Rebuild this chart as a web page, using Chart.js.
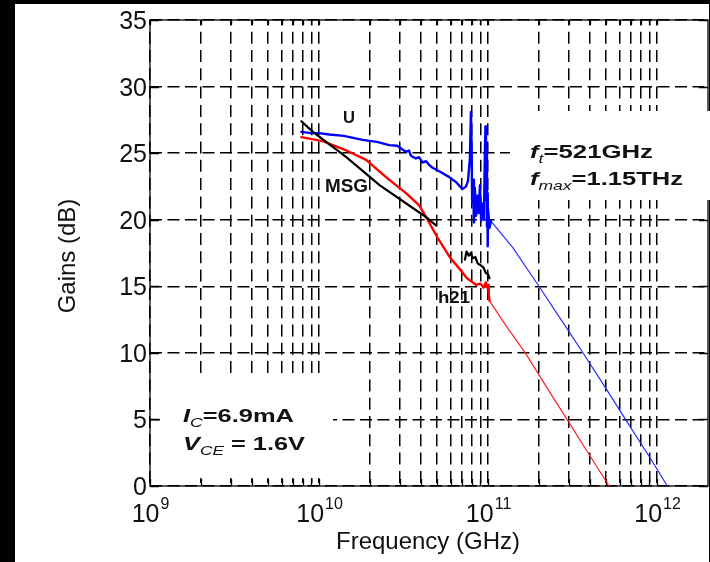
<!DOCTYPE html>
<html>
<head>
<meta charset="utf-8">
<script src="https://cdn.jsdelivr.net/npm/chart.js@4.4.1/dist/chart.umd.min.js"></script>
<style>
  html, body { margin: 0; padding: 0; background: #000; }
  #wrap { width: 710px; height: 562px; }
</style>
</head>
<body>
<div id="wrap"><canvas id="chart" width="710" height="562"></canvas></div>
<script>
// frequency in Hz, gain in dB
const uMeasFreq = [7.86e9, 9e9, 1.0e10, 1.15e10, 1.4e10, 1.81e10, 2.2e10, 2.6e10, 2.9e10, 3.1e10, 3.27e10, 3.4e10, 3.5e10, 3.74e10, 3.9e10, 4.1e10, 4.3e10, 4.49e10, 4.7e10, 5.2e10, 5.9e10, 6.5e10, 7.05e10, 7.4e10,
  7.6e10, 7.8e10, 7.92e10, 8.0e10, 8.05e10, 8.15e10, 8.25e10, 8.35e10, 8.5e10, 8.65e10, 8.8e10, 8.95e10, 9.1e10, 9.3e10, 9.45e10, 9.55e10, 9.65e10, 9.72e10, 9.8e10, 9.85e10, 9.9e10, 9.95e10, 1.0e11, 1.02e11, 1.04e11];
const uMeasGain = [26.6, 26.5, 26.5, 26.4, 26.3, 26.0, 25.85, 25.6, 25.55, 25.3, 25.1, 25.2, 24.8, 24.6, 24.7, 24.3, 24.4, 24.1, 23.9, 23.6, 23.2, 22.8, 22.3, 22.5,
  22.9, 24.5, 28.1, 25.0, 21.3, 23.0, 19.8, 22.4, 20.3, 21.8, 20.5, 22.6, 19.9, 21.2, 20.0, 24.2, 27.0, 21.5, 25.5, 19.5, 22.0, 18.0, 20.8, 19.4, 19.9];
const uExtFreq = [1.04e11, 1.4e11, 2e11, 2.8e11, 3.6e11, 5e11, 6.5e11, 9e11, 1.15e12];
const uExtGain = [19.9, 17.9, 15.0, 12.2, 10.1, 7.3, 5.0, 2.2, 0];

const h21MeasFreq = [7.86e9, 1.05e10, 1.45e10, 1.9e10, 2.49e10, 3.27e10, 3.9e10, 4.3e10, 5.0e10, 6.0e10, 7.0e10, 7.5e10, 8.0e10, 8.5e10, 9.0e10, 9.4e10, 9.7e10, 9.9e10, 1.0e11, 1.01e11, 1.02e11];
const h21MeasGain = [26.2, 25.9, 25.2, 24.5, 23.2, 22.0, 21.1, 20.2, 18.7, 17.1, 16.1, 15.6, 15.35, 15.1, 15.2, 14.9, 15.3, 14.9, 15.1, 14.4, 13.9];
const h21ExtFreq = [1.02e11, 1.3e11, 1.66e11, 2.2e11, 2.93e11, 3.9e11, 5.2e11];
const h21ExtGain = [13.9, 11.9, 10.0, 7.5, 5.0, 2.5, 0];

// null marks the break in the MSG trace
const msgFreq = [7.86e9, 9.2e9, 1.45e10, 2.28e10, 3.57e10, 4.3e10, 4.9e10, 6e10,
  7.3e10, 7.45e10, 7.7e10, 7.9e10, 8.1e10, 8.4e10, 8.7e10, 9.0e10, 9.4e10, 9.7e10, 1.0e11, 1.02e11];
const msgGain = [27.4, 26.6, 24.7, 22.6, 20.9, 20.2, 19.6, null,
  17.0, 17.6, 17.3, 17.5, 17.1, 17.2, 16.7, 16.6, 16.4, 16.0, 15.9, 15.6];

const xDecades = [1e9, 1e10, 1e11, 1e12];
const xExponents = ['9', '10', '11', '12'];
const gainTicks = [0, 5, 10, 15, 20, 25, 30, 35];

// log grid: 1..9 in every decade up to 1e12
const xGrid = [];
xDecades.forEach(d => {
  for (let m = 1; m <= 9; m++) if (d * m <= 1e12) xGrid.push(d * m);
});

const pts = (f, g) => f.map((v, i) => ({ x: v, y: g[i] }));
const FONT = '"Liberation Sans", Arial, sans-serif';

function runFont(r, size) {
  const s = r.sub ? Math.round(size * 0.68) : size;
  return (r.italic ? 'italic ' : '') + (r.bold ? 'bold ' : '') + s + 'px ' + FONT;
}

// draws text pieces (with subscripts) from x, squeezed/stretched to width
function drawRuns(c, runs, x, y, size, width) {
  let total = 0;
  runs.forEach(r => { c.font = runFont(r, size); r.w = c.measureText(r.t).width; total += r.w; });
  const k = width ? width / total : 1;
  c.save();
  c.translate(x, y);
  c.scale(k, 1);
  c.fillStyle = '#111';
  c.textAlign = 'left';
  c.textBaseline = 'alphabetic';
  let cx = 0;
  runs.forEach(r => {
    c.font = runFont(r, size);
    c.fillText(r.t, cx, r.sub ? size * 0.28 : 0);
    cx += r.w;
  });
  c.restore();
}

const decor = {
  id: 'decor',
  beforeDraw(chart) {
    const c = chart.ctx;
    c.save();
    c.fillStyle = '#000';
    c.fillRect(0, 0, chart.width, chart.height);
    c.fillStyle = '#fff';
    c.fillRect(15, 4, 694, 558);
    c.restore();
  },
  beforeDatasetsDraw(chart) {
    const c = chart.ctx;
    const a = chart.chartArea;
    const xs = chart.scales.x, ys = chart.scales.y;
    c.save();
    // frame
    c.strokeStyle = '#000';
    c.lineWidth = 1.3;
    c.strokeRect(a.left, a.top, a.right - a.left, a.bottom - a.top);
    // inner ticks
    c.lineWidth = 1.3;
    c.beginPath();
    xGrid.forEach(v => {
      const px = Math.round(xs.getPixelForValue(v)) + 0.5;
      c.moveTo(px, a.bottom); c.lineTo(px, a.bottom - 7);
      c.moveTo(px, a.top); c.lineTo(px, a.top + 5);
    });
    gainTicks.forEach(v => {
      const py = Math.round(ys.getPixelForValue(v)) + 0.5;
      c.moveTo(a.left, py); c.lineTo(a.left + 9, py);
      c.moveTo(a.right, py); c.lineTo(a.right - 9, py);
    });
    c.stroke();
    // opaque text boxes
    c.fillStyle = '#fff';
    c.fillRect(510, 111, 200, 89);
    c.fillRect(160, 379, 173, 99);
    // annotations
    drawRuns(c, [{ t: 'f', italic: true, bold: true }, { t: 't', italic: true, sub: true }, { t: '=521GHz', bold: true }], 530, 158, 19, 123);
    drawRuns(c, [{ t: 'f', italic: true, bold: true }, { t: 'max', italic: true, sub: true }, { t: '=1.15THz', bold: true }], 530, 185, 19, 153);
    drawRuns(c, [{ t: 'I', italic: true, bold: true }, { t: 'C', italic: true, sub: true }, { t: '=6.9mA', bold: true }], 183, 422, 19, 111);
    drawRuns(c, [{ t: 'V', italic: true, bold: true }, { t: 'CE', italic: true, sub: true }, { t: ' = 1.6V', bold: true }], 183, 450, 19, 122);
    drawRuns(c, [{ t: 'U', bold: true }], 343, 123, 17, 12);
    drawRuns(c, [{ t: 'MSG', bold: true }], 325, 192, 19, 43);
    drawRuns(c, [{ t: 'h21', bold: true }], 438, 303, 17, 32);
    c.restore();
  },
  afterDraw(chart) {
    const c = chart.ctx;
    const xs = chart.scales.x, ys = chart.scales.y;
    c.save();
    c.fillStyle = '#111';
    c.textBaseline = 'alphabetic';
    // y tick labels
    c.font = '25px ' + FONT;
    c.textAlign = 'right';
    gainTicks.forEach(v => {
      c.fillText(String(v), 147, ys.getPixelForValue(v) + 9);
    });
    // x tick labels: 10^n
    c.textAlign = 'left';
    xDecades.forEach((d, i) => {
      c.font = '25px ' + FONT;
      const wb = c.measureText('10').width;
      c.font = '16px ' + FONT;
      const we = c.measureText(xExponents[i]).width;
      const x0 = xs.getPixelForValue(d) - (wb + we) / 2;
      c.font = '25px ' + FONT;
      c.fillText('10', x0, 522);
      c.font = '16px ' + FONT;
      c.fillText(xExponents[i], x0 + wb + 1, 509);
    });
    // axis titles
    c.font = '24px ' + FONT;
    c.textAlign = 'center';
    c.fillText('Frequency (GHz)', 428, 549);
    c.translate(75, 256);
    c.rotate(-Math.PI / 2);
    c.fillText('Gains (dB)', 0, 0);
    c.restore();
  }
};

new Chart(document.getElementById('chart').getContext('2d'), {
  type: 'line',
  data: {
    datasets: [
      { label: 'MSG', data: pts(msgFreq, msgGain), borderColor: '#000', borderWidth: 2.2 },
      { label: 'U', data: pts(uMeasFreq, uMeasGain), borderColor: '#0000ff', borderWidth: 2.4 },
      { label: 'U (ext)', data: pts(uExtFreq, uExtGain), borderColor: '#2b2bff', borderWidth: 1.2 },
      { label: 'h21', data: pts(h21MeasFreq, h21MeasGain), borderColor: '#ff0000', borderWidth: 2.4 },
      { label: 'h21 (ext)', data: pts(h21ExtFreq, h21ExtGain), borderColor: '#ff2020', borderWidth: 1.2 }
    ]
  },
  options: {
    responsive: false,
    animation: false,
    devicePixelRatio: 1,
    layout: { padding: { left: 150, top: 20, right: 2, bottom: 76 } },
    elements: {
      point: { radius: 0 },
      line: { tension: 0, fill: false, borderJoinStyle: 'round', borderCapStyle: 'round' }
    },
    plugins: { legend: { display: false }, tooltip: { enabled: false } },
    scales: {
      x: {
        type: 'logarithmic',
        min: 1e9,
        max: 2e12,
        afterBuildTicks: s => { s.ticks = xGrid.map(v => ({ value: v })); },
        ticks: { display: false },
        grid: { color: '#000', lineWidth: 1.5, drawTicks: false },
        border: { display: false, dash: [12, 6.3], dashOffset: 6.6 }
      },
      y: {
        type: 'linear',
        min: 0,
        max: 35,
        afterBuildTicks: s => { s.ticks = gainTicks.map(v => ({ value: v })); },
        ticks: { display: false },
        grid: { color: '#000', lineWidth: 1.5, drawTicks: false },
        border: { display: false, dash: [12, 5.5], dashOffset: 0 }
      }
    }
  },
  plugins: [decor]
});
</script>
</body>
</html>
